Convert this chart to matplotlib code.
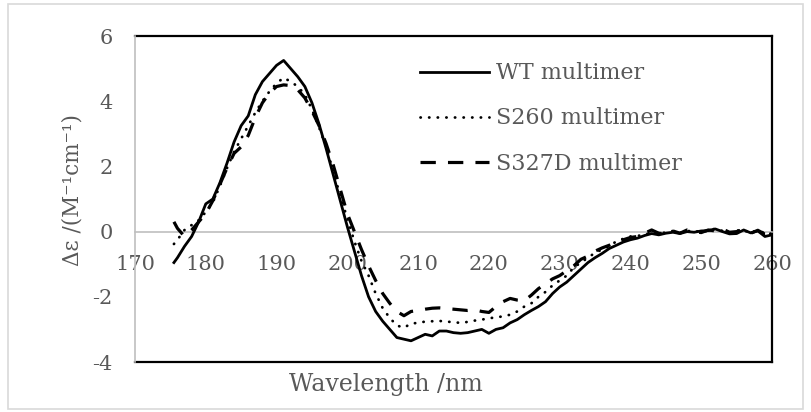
import numpy as np
import matplotlib
matplotlib.use("Agg")
import matplotlib.pyplot as plt
from matplotlib.lines import Line2D
from matplotlib.patches import Rectangle

# wavelength grid (nm)
wavelength = [175.5] + list(range(176, 261))

wt = [-0.95, -0.8, -0.45, -0.15, 0.3, 0.85, 1.0, 1.5, 2.1, 2.75,
      3.25, 3.55, 4.2, 4.6, 4.85, 5.1, 5.25, 5.0, 4.75, 4.45,
      3.95, 3.3, 2.55, 1.75, 0.95, 0.15, -0.6, -1.35, -2.0, -2.45,
      -2.75, -3.0, -3.25, -3.3, -3.35, -3.25, -3.15, -3.2, -3.05, -3.05,
      -3.1, -3.12, -3.1, -3.05, -3.0, -3.12, -3.0, -2.95, -2.8, -2.7,
      -2.55, -2.42, -2.3, -2.15, -1.9, -1.7, -1.55, -1.35, -1.15, -0.95,
      -0.8, -0.67, -0.52, -0.42, -0.32, -0.25, -0.2, -0.12, -0.06, -0.1,
      -0.05, -0.02, -0.06, 0.0, -0.02, 0.02, 0.03, 0.08, 0.0, -0.07,
      -0.06, 0.05, -0.04, 0.02, -0.15, -0.1]

s260 = [-0.38, -0.25, 0.05, 0.2, 0.35, 0.6, 0.9, 1.4, 1.95, 2.45,
        2.85, 3.25, 3.65, 4.0, 4.3, 4.55, 4.72, 4.6, 4.45, 4.2,
        3.75, 3.2, 2.6, 1.85, 1.1, 0.4, -0.3, -0.9, -1.35, -1.9,
        -2.35, -2.65, -2.88, -2.95, -2.82, -2.8, -2.76, -2.75, -2.74, -2.76,
        -2.78, -2.8, -2.77, -2.73, -2.7, -2.66, -2.63, -2.6, -2.55, -2.45,
        -2.3, -2.2, -2.0, -1.85, -1.65, -1.5, -1.35, -1.1, -0.95, -0.8,
        -0.65, -0.55, -0.45, -0.3, -0.22, -0.15, -0.13, -0.1, -0.02, -0.08,
        -0.02, 0.02, -0.04, 0.03, -0.02, 0.04, 0.0, 0.1, 0.02, -0.03,
        0.05, -0.02, 0.06, -0.05, 0.0, -0.08]

s327d = [0.3, 0.1, -0.15, 0.05, 0.3, 0.55, 0.95, 1.45, 1.95, 2.4,
         2.6, 2.95, 3.5, 3.95, 4.25, 4.45, 4.5, 4.48, 4.35, 4.1,
         3.7, 3.25, 2.7, 2.05, 1.3, 0.55, 0.0, -0.55, -1.05, -1.5,
         -1.9, -2.2, -2.45, -2.58, -2.45, -2.42, -2.38, -2.35, -2.34, -2.36,
         -2.38, -2.4, -2.42, -2.4, -2.45, -2.48, -2.3, -2.15, -2.05, -2.1,
         -2.12, -1.95, -1.75, -1.6, -1.45, -1.35, -1.2, -1.05, -0.85, -0.75,
         -0.6, -0.5, -0.42, -0.3, -0.25, -0.18, -0.15, -0.05, 0.05, -0.05,
         -0.08, 0.02, -0.05, 0.05, 0.0, -0.03, 0.05, 0.02, 0.08, -0.02,
         0.0, 0.06, -0.05, 0.04, -0.08, -0.06]

labels = ["WT multimer", "S260 multimer", "S327D multimer"]
x_ticks = list(range(170, 261, 10))
y_ticks = [-4, -2, 0, 2, 4, 6]

GRAY_TXT = "#595959"
AXIS_GRAY = "#bfbfbf"
FONT = "DejaVu Serif"

plt.rcParams["font.family"] = FONT

fig = plt.figure(figsize=(8.11, 4.12), dpi=100)
fig.patches.append(Rectangle((8 / 811, 1 - 409 / 412), 795 / 811, 405 / 412,
                             transform=fig.transFigure, fill=False,
                             edgecolor="#d9d9d9", linewidth=1.2))
ax = fig.add_axes([135 / 811, 50 / 412, 637 / 811, 326 / 412])

ax.plot(wavelength, wt, color="black", lw=2.0, solid_joinstyle="round",
        label=labels[0], zorder=5)
ax.plot(wavelength, s260, color="black", lw=2.0, dashes=(0.1, 3.0),
        dash_capstyle="round", label=labels[1], zorder=5)
ax.plot(wavelength, s327d, color="black", lw=2.3, dashes=(4.8, 3.8),
        label=labels[2], zorder=5)

ax.set_xlim(170, 260)
ax.set_ylim(-4, 6)
ax.set_xticks(x_ticks)
ax.set_yticks(y_ticks)
ax.set_yticklabels([str(v) for v in y_ticks])

for s in ["top", "right"]:
    ax.spines[s].set_visible(False)
ax.spines["bottom"].set_position(("data", 0))
ax.spines["bottom"].set_color(AXIS_GRAY)
ax.spines["bottom"].set_linewidth(1.2)
ax.spines["left"].set_color(AXIS_GRAY)
ax.spines["left"].set_linewidth(1.2)
ax.spines["left"].set_zorder(3)

# black plot-area border (top, bottom, right)
for xs, ys in [([0, 1], [1, 1]), ([0, 1], [0, 0]), ([1, 1], [0, 1])]:
    ax.add_line(Line2D(xs, ys, transform=ax.transAxes, color="black",
                       lw=1.6, clip_on=False, zorder=2))

ax.tick_params(axis="both", length=0, labelsize=15, labelcolor=GRAY_TXT)
ax.tick_params(axis="x", pad=17)
ax.tick_params(axis="y", pad=16)

fig.text(72 / 811, 1 - 190 / 412, "Δε /(M⁻¹cm⁻¹)",
         rotation=90, ha="center", va="center", fontsize=15.5, color=GRAY_TXT)
fig.text(386 / 811, 1 - 385 / 412, "Wavelength /nm", ha="center",
         va="center", fontsize=17, color=GRAY_TXT)

leg = ax.legend(loc="upper left", bbox_to_anchor=(420 / 811, 1 - 62 / 412),
                bbox_transform=fig.transFigure, frameon=False, fontsize=16,
                handlelength=3.1, handletextpad=0.3, labelspacing=1.05,
                borderpad=0, borderaxespad=0, handleheight=0.6)
for t in leg.get_texts():
    t.set_color(GRAY_TXT)

fig.savefig("out.png", dpi=100)
